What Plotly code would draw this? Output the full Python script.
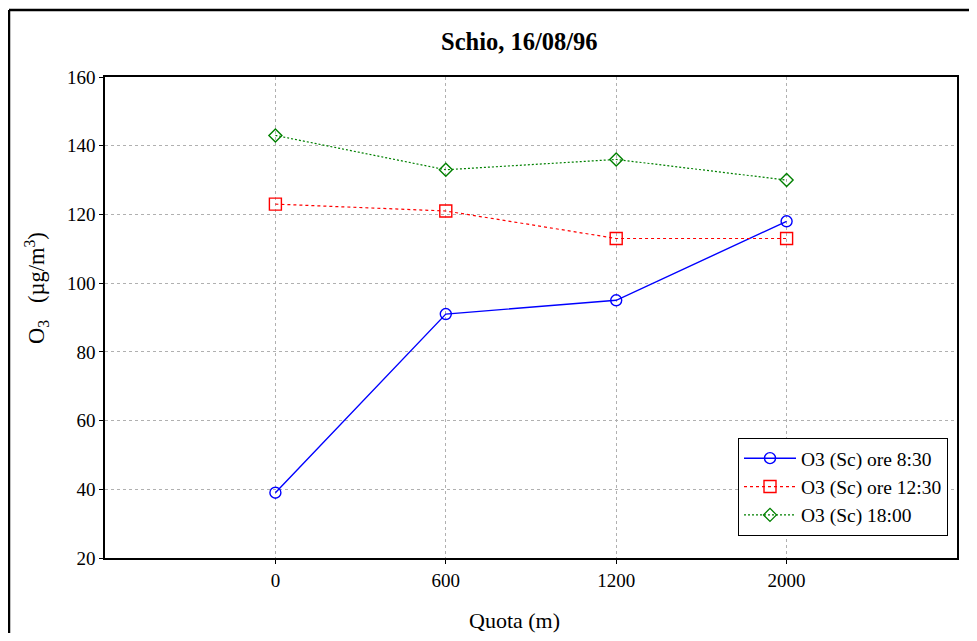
import plotly.graph_objects as go

quota = ["0", "600", "1200", "2000"]
o3_0830 = [39, 91, 95, 118]
o3_1230 = [123, 121, 113, 113]
o3_1800 = [143, 133, 136, 130]
y_ticks = [20, 40, 60, 80, 100, 120, 140, 160]

FONT = "Liberation Serif, Times New Roman, serif"

fig = go.Figure()
fig.add_trace(go.Scatter(
    x=quota, y=o3_0830, name="O3 (Sc) ore 8:30", mode="lines+markers",
    line=dict(color="#0000ff", width=1.4),
    marker=dict(symbol="circle-open", size=11, color="#0000ff", line=dict(width=1.4))))
fig.add_trace(go.Scatter(
    x=quota, y=o3_1230, name="O3 (Sc) ore 12:30", mode="lines+markers",
    line=dict(color="#ff0000", width=1.2, dash="3px,3px"),
    marker=dict(symbol="square-open", size=12, color="#ff0000", line=dict(width=1.4))))
fig.add_trace(go.Scatter(
    x=quota, y=o3_1800, name="O3 (Sc) 18:00", mode="lines+markers",
    line=dict(color="#008000", width=1.2, dash="2px,2px"),
    marker=dict(symbol="diamond-open", size=10, color="#008000", line=dict(width=1.4))))

OFF = 8  # page body margin
W, H = 969, 625
L, T = 105 - OFF, 77 - OFF
R = W - (957 - OFF)
B = H - (558 - OFF)
pw, ph = W - L - R, H - T - B

def px(x):
    return (x - OFF - L) / pw

def py(y):
    return (H - B - (y - OFF)) / ph

fig.update_layout(
    width=W, height=H,
    margin=dict(l=L, r=R, t=T, b=B, autoexpand=False),
    paper_bgcolor="white", plot_bgcolor="white",
    font=dict(family=FONT, size=18, color="black"),
    showlegend=True,
    legend=dict(x=px(738), y=py(438), xanchor="left", yanchor="top",
                bordercolor="black", borderwidth=1, bgcolor="white",
                font=dict(family=FONT, size=19.5), tracegroupgap=0,
                itemwidth=52),
    xaxis=dict(type="category", range=[-1, 4], showline=True, mirror=True,
               linecolor="black", linewidth=1.5, ticks="outside", ticklen=4,
               tickcolor="black", showgrid=True, gridcolor="#b0b0b0",
               griddash="dot", gridwidth=1, zeroline=False,
               tickfont=dict(family=FONT, size=19)),
    yaxis=dict(range=[20, 160], tickvals=y_ticks, showline=True, mirror=True,
               linecolor="black", linewidth=1.5, ticks="outside", ticklen=4,
               tickcolor="black", showgrid=True, gridcolor="#b0b0b0",
               griddash="dot", gridwidth=1, zeroline=False,
               tickfont=dict(family=FONT, size=19)),
    annotations=[
        dict(text="<b>Schio, 16/08/96</b>", x=px(519), y=py(42), xref="paper", yref="paper",
             showarrow=False, font=dict(family=FONT, size=24.5), xanchor="center", yanchor="middle"),
        dict(text="O<sub>3</sub>&nbsp;&nbsp;&nbsp;(µg/m<sup>3</sup>)", x=px(36), y=py(288),
             xref="paper", yref="paper",
             showarrow=False, textangle=-90, font=dict(family=FONT, size=22.5),
             xanchor="center", yanchor="middle"),
        dict(text="Quota (m)", x=px(514), y=py(620), xref="paper", yref="paper",
             showarrow=False, font=dict(family=FONT, size=22), xanchor="center", yanchor="middle"),
    ],
    shapes=[
        dict(type="line", xref="paper", yref="paper", x0=px(9), x1=px(9), y0=py(680), y1=py(10),
             line=dict(color="black", width=2.5)),
        dict(type="line", xref="paper", yref="paper", x0=px(9), x1=px(1000), y0=py(10), y1=py(10),
             line=dict(color="black", width=2.5)),
    ],
)

fig.write_html("out.html")
